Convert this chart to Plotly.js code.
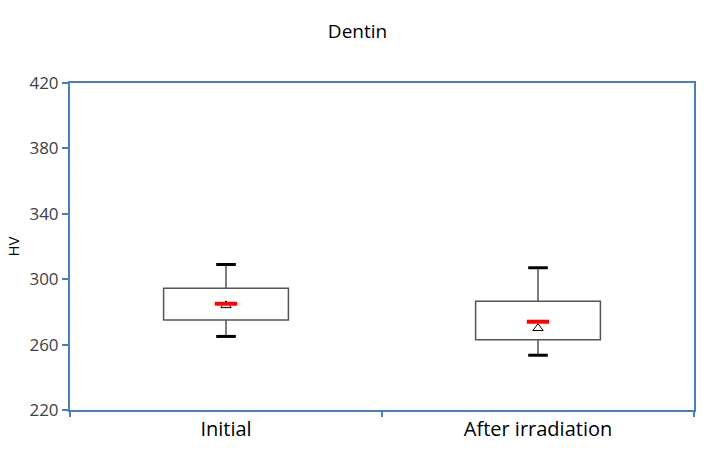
<!DOCTYPE html>
<html>
<head>
<meta charset="utf-8">
<script src="https://cdn.plot.ly/plotly-3.0.1.min.js"></script>
<style>
  html, body { margin: 0; padding: 0; background: #fff; }
  #chart { width: 708px; height: 462px; }
</style>
</head>
<body>
<div id="chart"></div>
<script>
// Dentin hardness (HV)
const groups = ['Initial', 'After irradiation'];
const lowerWhisker = [265, 253.5];
const q1 = [275, 263];
const median = [285, 274];
const q3 = [294.5, 286.5];
const upperWhisker = [309, 307];
const mean = [284, 270];

const BLUE = '#4a7ebb';
const FONT = '"Open Sans", "Noto Sans", sans-serif';

const traces = [
  // box body
  {
    type: 'bar', x: groups, base: q1, y: q3.map((v, i) => v - q1[i]),
    width: 0.4,
    marker: { color: '#ffffff', line: { color: '#555555', width: 1.5 } },
    hoverinfo: 'skip', showlegend: false,
  },
  // upper whisker + cap
  {
    type: 'scatter', mode: 'markers', x: groups, y: upperWhisker,
    marker: { symbol: 'line-ew-open', size: 14, color: '#000', line: { color: '#000', width: 3 } },
    error_y: { type: 'data', symmetric: false, array: [0, 0],
      arrayminus: upperWhisker.map((v, i) => v - q3[i]), width: 0, color: '#555555', thickness: 1.5 },
    hoverinfo: 'skip', showlegend: false,
  },
  // lower whisker + cap
  {
    type: 'scatter', mode: 'markers', x: groups, y: lowerWhisker,
    marker: { symbol: 'line-ew-open', size: 14, color: '#000', line: { color: '#000', width: 3 } },
    error_y: { type: 'data', symmetric: false, arrayminus: [0, 0],
      array: lowerWhisker.map((v, i) => q1[i] - v), width: 0, color: '#555555', thickness: 1.5 },
    hoverinfo: 'skip', showlegend: false,
  },
  // mean
  {
    type: 'scatter', mode: 'markers', x: groups, y: mean,
    marker: { symbol: 'triangle-up-open', size: 9, color: '#000', line: { color: '#000', width: 1 } },
    hoverinfo: 'skip', showlegend: false,
  },
  // median
  {
    type: 'scatter', mode: 'markers', x: groups, y: median,
    marker: { symbol: 'line-ew-open', size: 16, color: '#ff0000', line: { color: '#ff0000', width: 4 } },
    hoverinfo: 'skip', showlegend: false,
  },
];

const layout = {
  width: 708, height: 462,
  margin: { l: 70, r: 14, t: 83, b: 52 },
  paper_bgcolor: '#fff', plot_bgcolor: '#fff',
  font: { family: FONT, color: '#000' },
  title: { text: 'Dentin', font: { size: 19, color: '#000' }, x: 0.505, xanchor: 'center', y: 0.933, yanchor: 'middle' },
  bargap: 0.6,
  xaxis: {
    type: 'category', showgrid: false, zeroline: false,
    showline: true, linecolor: BLUE, linewidth: 2, mirror: true,
    ticks: 'outside', tickson: 'boundaries', ticklen: 5, tickcolor: BLUE, tickwidth: 2,
    tickfont: { size: 20, color: '#000' },
  },
  yaxis: {
    range: [220, 420], tickvals: [220, 260, 300, 340, 380, 420],
    showgrid: false, zeroline: false,
    showline: true, linecolor: BLUE, linewidth: 2, mirror: true,
    ticks: 'outside', ticklen: 6, tickcolor: BLUE, tickwidth: 2,
    tickfont: { size: 17, color: '#404040' },
    title: { text: 'HV', font: { size: 15, color: '#000' }, standoff: 6 },
  },
};

Plotly.newPlot('chart', traces, layout, { displayModeBar: false, staticPlot: true });
</script>
</body>
</html>
